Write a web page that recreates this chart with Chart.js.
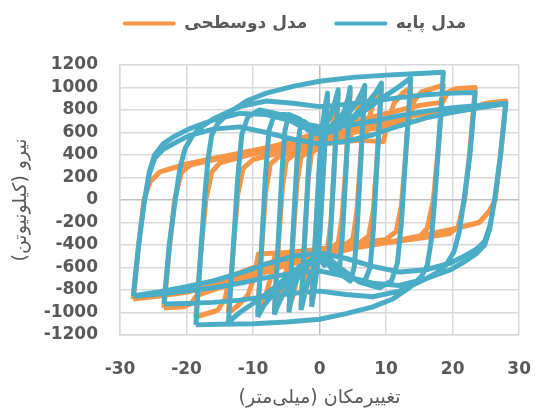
<html><head><title>Hysteresis loops</title>
<script src="https://cdn.jsdelivr.net/npm/chart.js"></script>
<style>
    body { margin: 0; background: #fff; }
    canvas { display: block; }
</style>
</head>
<body>
<canvas id="loops" width="555" height="412"></canvas>
<script>
// displacement (mm) / force (kN), one sub-array per loop
const baseDisp = [
    [-1.2, -0.6, 0, 0.4, 0.8, 1.2, 0.6, 0, -0.4, -0.8, -1.2],
    [-2.8, -2.2, -1.6, -1.2, -0.7, 0, 0.8, 1.6, 2.2, 2.8, 2.2, 1.6, 1.2, 0.7, 0, -0.8, -1.6, -2.2, -2.8],
    [-4.6, -4, -3.4, -3, -2.4, -1.2, 0, 1.5, 3, 3.8, 4.3, 4.6, 4, 3.4, 3, 2.4, 1.2, 0, -1.5, -3, -3.8, -4.3, -4.6],
    [-6.8, -6.2, -5.6, -5.2, -4.6, -3, -1.5, 0, 1.5, 3, 4.5, 5.6, 6.3, 6.8, 6.2, 5.6, 5.2, 4.6, 3, 1.5, 0, -1.5, -3, -4.5, -5.6, -6.3, -6.8],
    [-9.3, -8.7, -8.1, -7.6, -6.8, -5, -3, -1.5, 0, 1.5, 3, 5, 7, 8.4, 9.3, 8.7, 8.1, 7.6, 6.8, 5, 3, 1.5, 0, -1.5, -3, -5, -7, -8.4, -9.3],
    [-13.7, -13, -12.3, -11.7, -10.8, -9, -6, -3, 0, 3, 6, 9, 12, 13.7, 13, 12.3, 11.7, 10.8, 9, 6, 3, 0, -3, -6, -9, -12, -13.7],
    [-18.6, -17.9, -17.3, -16.8, -16.2, -15.3, -13.5, -11, -8, -4, 0, 5, 10, 15, 18.6, 17.9, 17.3, 16.8, 16.2, 15.3, 13.5, 11, 8, 4, 0, -5, -10, -15, -18.6],
    [-23.4, -22.6, -21.7, -21, -20.2, -19, -17.5, -16, -12, -8, -4, 0, 4, 8, 12, 16, 20, 23.4, 22.6, 21.7, 21, 20.2, 19, 17.5, 16, 12, 8, 4, 0, -4, -8, -12, -16, -20, -23.4],
    [-28, -27.2, -26.3, -25.6, -24.8, -23.5, -22, -19.7, -16, -12, -8, -4, 0, 4, 8, 12, 16, 20, 24, 28, 27.2, 26.3, 25.6, 24.8, 23.5, 22, 19.7, 16, 12, 8, 4, 0, -4, -8, -12, -16, -20, -24, -28],
    [-28, -27.2, -26.3, -25.6, -24.8, -23.5, -22, -19.7, -16, -12, -8, -4, 0, 4, 8, 12, 16, 20, 24, 28, 27.2, 26.3, 25.6, 24.8, 23.5, 22, 19.7, 16, 12, 8, 4, 0, -4, -8, -12, -16, -20, -24, -28]
];
const baseForce = [
    [-950, -300, 350, 650, 820, 950, 300, -350, -620, -800, -950],
    [-980, -300, 350, 600, 660, 620, 660, 740, 850, 980, 300, -350, -560, -580, -520, -600, -700, -830, -980],
    [-1000, -300, 350, 620, 700, 650, 600, 650, 720, 800, 900, 1000, 300, -350, -600, -660, -560, -500, -560, -650, -760, -880, -1000],
    [-1020, -350, 300, 620, 760, 720, 630, 590, 620, 690, 780, 870, 950, 1020, 350, -300, -600, -720, -650, -550, -490, -560, -660, -760, -850, -940, -1020],
    [-1040, -400, 250, 620, 760, 760, 680, 610, 580, 600, 650, 740, 850, 950, 1040, 400, -250, -600, -720, -700, -600, -520, -480, -540, -630, -740, -840, -940, -1040],
    [-1085, -450, 200, 580, 740, 800, 760, 660, 590, 640, 760, 890, 1010, 1085, 450, -200, -560, -720, -780, -730, -600, -500, -590, -740, -880, -1000, -1085],
    [-1110, -500, 0, 350, 580, 680, 780, 880, 950, 1010, 1055, 1090, 1110, 1125, 1135, 500, 0, -350, -580, -680, -780, -880, -950, -1010, -1060, -1085, -1100, -1105, -1110],
    [-925, -400, 0, 280, 460, 580, 660, 720, 830, 880, 860, 830, 850, 880, 910, 935, 950, 955, 400, 0, -280, -460, -580, -650, -700, -810, -860, -840, -810, -830, -860, -890, -910, -920, -925],
    [-855, -400, 0, 250, 400, 500, 560, 630, 710, 770, 760, 700, 650, 660, 700, 750, 790, 820, 840, 860, 400, 0, -250, -400, -480, -540, -620, -700, -760, -740, -680, -630, -650, -690, -740, -780, -810, -835, -855],
    [-850, -400, 0, 230, 370, 450, 500, 570, 630, 650, 600, 540, 500, 520, 580, 660, 730, 780, 820, 855, 400, 0, -230, -370, -440, -490, -560, -620, -640, -590, -520, -470, -500, -570, -650, -720, -770, -815, -850]
];

const biDisp = [
    [-1.2, -0.6, 0, 0.4, 0.8, 1, 1.2, 0.6, 0, -0.4, -0.8, -1, -1.2],
    [-2.8, -2.2, -1.7, -1.2, 0, 1.3, 1.8, 2.3, 2.8, 2.2, 1.7, 1.2, 0, -1.3, -1.8, -2.3, -2.8],
    [-4.6, -4, -3.4, -2.8, -1.5, 0, 2, 2.8, 3.4, 4, 4.6, 4, 3.4, 2.8, 1.5, 0, -2, -2.8, -3.4, -4, -4.6],
    [-6.8, -6.2, -5.6, -5, -3.5, 0, 3, 4.6, 5.3, 6, 6.8, 6.2, 5.6, 5, 3.5, 0, -3, -4.6, -5.3, -6, -6.8],
    [-9.3, -8.7, -8.1, -7.4, -6, -3, 0, 3, 6.8, 7.4, 8.2, 9.3, 8.7, 8.1, 7.4, 6, 3, 0, -3, -6.8, -7.4, -8.2, -9.3],
    [-13.7, -13, -12.3, -11.5, -10, -6, -2, 2, 6, 9.6, 10.3, 11.2, 12.5, 13.7, 13, 12.3, 11.5, 10, 6, 2, -2, -6, -9.2, -9.8, -10.8, -12.5, -13.7],
    [-18.6, -17.9, -17.1, -16.2, -15, -10, -5, 0, 5, 10, 13.5, 14.2, 15.3, 18.6, 17.9, 17.1, 16.2, 15, 10, 5, 0, -5, -10, -13.5, -14.2, -15.3, -18.6],
    [-23.4, -22.6, -21.8, -20.8, -19.5, -15, -10, -5, 0, 5, 10, 15, 18.5, 19.3, 20.5, 23.4, 22.6, 21.8, 20.8, 19.5, 15, 10, 5, 0, -5, -10, -15, -18.5, -19.3, -20.5, -23.4],
    [-28, -27.2, -26.4, -25.5, -24, -20, -15, -10, -5, 0, 5, 10, 15, 20, 23.5, 25, 28, 27.2, 26.4, 25.5, 24, 20, 15, 10, 5, 0, -5, -10, -15, -20, -23.5, -25, -28]
];
const biForce = [
    [-900, -300, 300, 480, 520, 700, 900, 300, -300, -480, -520, -700, -900],
    [-940, -300, 200, 420, 470, 510, 620, 780, 940, 300, -200, -420, -460, -500, -620, -780, -940],
    [-960, -350, 150, 380, 440, 480, 520, 560, 700, 850, 960, 350, -150, -380, -430, -460, -500, -560, -700, -850, -960],
    [-990, -400, 100, 350, 420, 490, 530, 550, 700, 870, 990, 400, -100, -350, -410, -460, -500, -530, -700, -870, -990],
    [-1000, -420, 80, 320, 390, 440, 490, 520, 540, 720, 880, 1000, 420, -80, -320, -380, -420, -460, -480, -510, -700, -870, -1000],
    [-1000, -450, 50, 280, 360, 420, 470, 510, 530, 520, 700, 860, 950, 1000, 450, -50, -280, -350, -380, -420, -450, -470, -480, -680, -850, -950, -1000],
    [-1040, -500, 0, 250, 330, 410, 470, 530, 600, 660, 700, 880, 960, 1020, 500, 0, -250, -330, -380, -420, -460, -520, -600, -680, -880, -980, -1040],
    [-960, -450, 0, 240, 310, 370, 430, 510, 600, 690, 770, 840, 870, 960, 990, 1000, 450, 0, -240, -300, -340, -380, -430, -500, -580, -680, -780, -850, -920, -950, -960],
    [-880, -400, 0, 160, 250, 320, 380, 440, 500, 560, 630, 700, 760, 810, 830, 860, 880, 400, 0, -100, -200, -260, -320, -380, -430, -480, -560, -650, -740, -820, -850, -860, -880]
];

const seriesNames = ['مدل پایه', 'مدل دوسطحی'];
const seriesColors = ['#4BACC6', '#F79646'];
const xTitle = 'تغییرمکان (میلی‌متر)';
const yTitle = 'نیرو (کیلونیوتن)';

// loops joined into one path, broken by gaps
function toPoints(dispLoops, forceLoops) {
    const pts = [];
    dispLoops.forEach((loop, k) => {
        if (k > 0) pts.push({ x: NaN, y: NaN });
        loop.forEach((d, i) => pts.push({ x: d, y: forceLoops[k][i] }));
    });
    return pts;
}

const gray = '#595959';
const gridColor = ctx => ctx.tick && ctx.tick.value === 0 ? '#bfbfbf' : '#d9d9d9';
const tickFont = { family: 'DejaVu Sans', size: 17, weight: 'bold' };

const legendTweak = {
    id: 'legendTweak',
    beforeInit(chart) {
        const fit = chart.legend.fit;
        chart.legend.fit = function () {
            fit.call(this);
            this.height = 65;
        };
    },
    afterLayout(chart) {
        const l = chart.legend;
        l.top -= 12; l.bottom -= 12;
        l.left += 24; l.right += 24;
    }
};

const lineStyle = {
    showLine: true,
    pointRadius: 0,
    borderWidth: 5,
    borderJoinStyle: 'round',
    tension: 0,
    spanGaps: false
};

new Chart(document.getElementById('loops'), {
    type: 'scatter',
    data: {
        datasets: [
            Object.assign({
                label: seriesNames[0],
                data: toPoints(baseDisp, baseForce),
                borderColor: seriesColors[0],
                backgroundColor: seriesColors[0]
            }, lineStyle),
            Object.assign({
                label: seriesNames[1],
                data: toPoints(biDisp, biForce),
                borderColor: seriesColors[1],
                backgroundColor: seriesColors[1]
            }, lineStyle)
        ]
    },
    options: {
        responsive: false,
        animation: false,
        layout: { padding: { left: 0, right: 14, top: 0, bottom: 0 } },
        plugins: {
            tooltip: { enabled: false },
            legend: {
                reverse: true,
                labels: {
                    boxWidth: 53,
                    boxHeight: 4,
                    padding: 27,
                    color: gray,
                    font: { family: 'DejaVu Sans', size: 17, weight: 'bold' },
                    generateLabels(chart) {
                        return Chart.defaults.plugins.legend.labels.generateLabels(chart)
                            .map(item => Object.assign(item, { lineWidth: 0, borderRadius: 2 }));
                    }
                }
            }
        },
        scales: {
            x: {
                type: 'linear',
                min: -30,
                max: 30,
                afterFit(scale) { scale.height = 77; },
                ticks: {
                    stepSize: 10,
                    padding: 24,
                    color: gray,
                    font: tickFont,
                    callback: v => String(v)
                },
                grid: { color: gridColor, lineWidth: 1.5, drawTicks: false },
                border: { color: '#d9d9d9', width: 1.5 },
                title: {
                    display: true,
                    text: xTitle,
                    color: gray,
                    padding: { top: 0, bottom: 3 },
                    font: { family: 'DejaVu Sans', size: 19 }
                }
            },
            y: {
                min: -1200,
                max: 1200,
                afterFit(scale) { scale.width = 120; },
                ticks: {
                    stepSize: 200,
                    autoSkip: false,
                    padding: 22,
                    color: gray,
                    font: tickFont,
                    callback: v => String(v)
                },
                grid: { color: gridColor, lineWidth: 1.5, drawTicks: false },
                border: { color: '#d9d9d9', width: 1.5 },
                title: {
                    display: true,
                    text: yTitle,
                    color: gray,
                    padding: { top: 10, bottom: 0 },
                    font: { family: 'DejaVu Sans', size: 19 }
                }
            }
        }
    },
    plugins: [legendTweak]
});
</script>
</body>
</html>
